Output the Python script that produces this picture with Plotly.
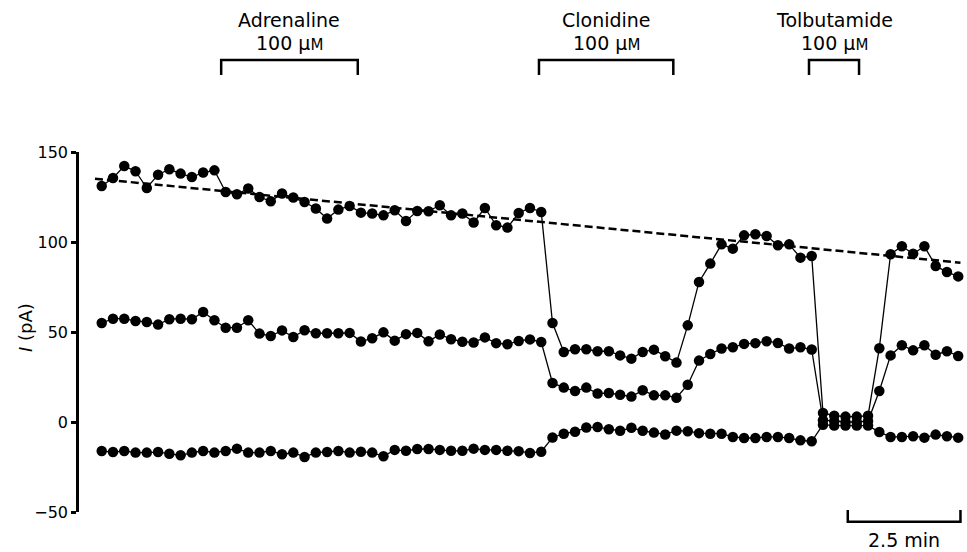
import plotly.graph_objects as go

# ---------------- data ----------------
sample_interval_min = 0.25  # one sample every 15 s
n_samples = 77
time_min = [i * sample_interval_min for i in range(n_samples)]

top_pA = [131.1, 135.6, 142.2, 139.3, 130.0, 137.4, 140.4, 138.0, 136.1, 138.6,
          139.8, 127.8, 126.5, 129.7, 125.0, 122.6, 126.9, 124.7, 122.2, 118.6,
          113.0, 118.0, 120.0, 116.3, 115.8, 114.8, 117.6, 111.7, 117.2, 117.1,
          120.4, 114.8, 115.8, 110.8, 118.9, 109.3, 108.0, 116.1, 118.9, 116.7,
          55.0, 38.9, 40.4, 40.4, 39.3, 39.3, 37.0, 35.2, 38.9, 40.2,
          36.5, 33.0, 53.7, 77.8, 88.0, 98.7, 96.3, 103.7, 104.3, 103.3,
          98.2, 98.7, 91.3, 92.2, 5.0, 3.5, 3.0, 3.0, 3.5, 41.0,
          93.2, 97.6, 93.5, 97.6, 86.7, 83.3, 80.9]

middle_pA = [55.0, 57.4, 57.4, 56.1, 55.6, 54.1, 57.1, 57.4, 57.1, 61.1,
             56.5, 52.4, 52.4, 56.5, 49.1, 47.8, 50.9, 47.2, 51.0, 49.3,
             49.3, 49.3, 49.5, 44.7, 46.5, 49.8, 45.2, 48.8, 49.5, 44.8,
             48.6, 46.0, 44.6, 44.2, 47.0, 43.8, 43.2, 45.0, 45.9, 44.4,
             21.7, 19.1, 17.2, 19.1, 15.8, 16.1, 15.1, 14.1, 17.6, 14.8,
             14.8, 13.5, 20.7, 34.1, 37.8, 40.8, 41.5, 43.4, 43.8, 44.9,
             43.9, 40.8, 41.5, 40.3, 1.0, 0.5, 0.0, 0.0, 0.5, 17.2,
             37.0, 42.6, 39.8, 42.6, 37.4, 39.3, 36.7]

bottom_pA = [-16.1, -16.7, -16.1, -17.0, -17.0, -16.7, -17.6, -18.5, -17.0, -16.1,
             -17.0, -16.1, -14.8, -17.0, -17.0, -16.1, -17.9, -17.0, -19.4, -17.0,
             -16.7, -16.1, -17.0, -16.5, -17.0, -19.0, -15.5, -16.0, -15.0, -15.0,
             -15.5, -16.0, -16.0, -14.8, -15.5, -15.5, -16.0, -16.2, -17.2, -16.5,
             -8.6, -6.5, -5.4, -3.1, -2.8, -4.0, -4.9, -3.2, -4.9, -5.9,
             -6.9, -4.8, -5.1, -6.2, -6.5, -6.5, -8.3, -8.9, -8.9, -8.3,
             -8.3, -8.9, -10.2, -10.7, -1.5, -2.0, -2.0, -2.0, -2.0, -5.6,
             -8.3, -8.3, -7.9, -8.7, -7.0, -7.9, -8.7]

# linear baseline fit of the top trace (dashed)
fit_time_min = [-0.15, 19.05]
fit_pA = [135.2, 88.5]

# drug applications
drug_names = ["Adrenaline", "Clonidine", "Tolbutamide"]
drug_conc = ["100 μ<span style='font-size:15px'>M</span>"] * 3
drug_start_min = [2.65, 9.70, 15.69]
drug_end_min = [5.68, 12.68, 16.80]

# time scale bar
scale_len_min = 2.5
scale_end_min = 19.05
scale_label = "2.5 min"

y_ticks = [-50, 0, 50, 100, 150]
y_title = "<i>I</i> (pA)"

# ---------------- figure ----------------
FONT = "DejaVu Sans"
fig = go.Figure()

for ys in (top_pA, middle_pA, bottom_pA):
    fig.add_trace(go.Scatter(
        x=time_min, y=ys, mode="lines+markers",
        line=dict(color="black", width=1.3),
        marker=dict(symbol="circle", size=10.5, color="black"),
        cliponaxis=False, showlegend=False, hoverinfo="skip"))

fig.add_trace(go.Scatter(
    x=fit_time_min, y=fit_pA, mode="lines",
    line=dict(color="black", width=2.5, dash="8px,4px"),
    showlegend=False, hoverinfo="skip"))

shapes = []
annotations = []
y_br_top, y_br_leg = 1.2556, 1.2139
for name, conc, s, e in zip(drug_names, drug_conc, drug_start_min, drug_end_min):
    shapes.append(dict(type="path", xref="x", yref="paper",
                       path=f"M {s},{y_br_leg} L {s},{y_br_top} L {e},{y_br_top} L {e},{y_br_leg}",
                       line=dict(color="black", width=2.5)))
    mid = (s + e) / 2
    annotations.append(dict(x=mid, y=1.3667, xref="x", yref="paper", text=name,
                            showarrow=False, xanchor="center", yanchor="middle",
                            font=dict(family=FONT, size=19, color="black")))
    annotations.append(dict(x=mid, y=1.3036, xref="x", yref="paper", text=conc,
                            showarrow=False, xanchor="center", yanchor="middle",
                            font=dict(family=FONT, size=19, color="black")))

sb_s = scale_end_min - scale_len_min
sb_e = scale_end_min
shapes.append(dict(type="path", xref="x", yref="paper",
                   path=f"M {sb_s},0.0056 L {sb_s},-0.0269 L {sb_e},-0.0269 L {sb_e},0.0056",
                   line=dict(color="black", width=2.5)))
annotations.append(dict(x=(sb_s + sb_e) / 2, y=-0.0778, xref="x", yref="paper",
                        text=scale_label, showarrow=False, xanchor="center", yanchor="middle",
                        font=dict(family=FONT, size=19, color="black")))

# y-axis title placed as a rotated annotation
annotations.append(dict(x=-0.0608, y=0.511, xref="paper", yref="paper", text=y_title,
                        textangle=-90, showarrow=False, xanchor="center", yanchor="middle",
                        font=dict(family=FONT, size=18, color="black")))

fig.update_layout(
    width=967, height=552,
    margin=dict(l=79, r=0, t=152, b=40),
    paper_bgcolor="white", plot_bgcolor="white",
    shapes=shapes, annotations=annotations,
    xaxis=dict(visible=False, range=[-0.504, 19.195], fixedrange=True),
    yaxis=dict(range=[-50, 150], tickvals=y_ticks, showgrid=False, zeroline=False,
               showline=True, linecolor="black", linewidth=2.5,
               ticks="outside", ticklen=5, tickwidth=2.5, tickcolor="black",
               tickfont=dict(family=FONT, size=16, color="black")),
)

fig.write_html(
    "out.html",
    config={"displayModeBar": False},
    post_script="document.body.style.margin='0';document.body.style.overflow='hidden';",
)
